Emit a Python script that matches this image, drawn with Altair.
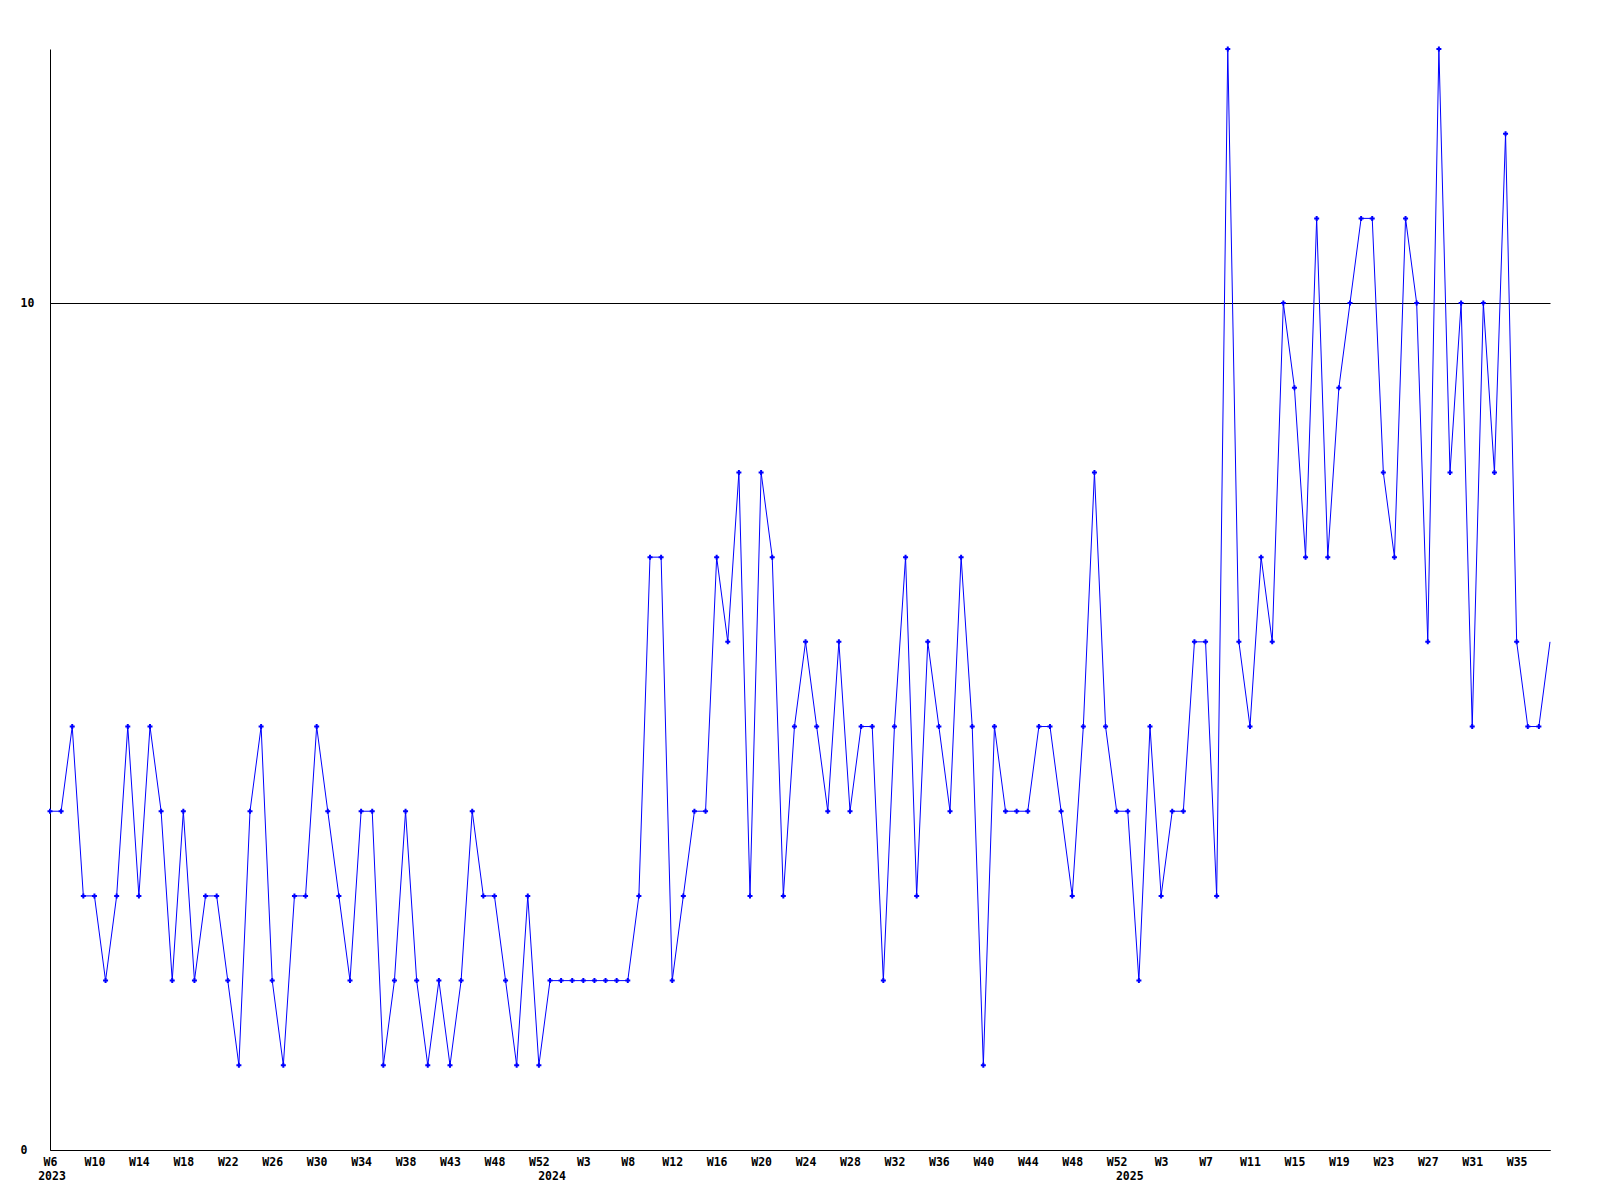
import altair as alt
import pandas as pd

# ---- data ----
weeks_2023 = [6, 7, 8, 9, 10, 11, 12, 13, 14, 15, 16, 17, 18, 19, 20, 21, 22, 23,
              24, 25, 26, 27, 28, 29, 30, 31, 32, 33, 34, 35, 36, 37, 38,
              39, 40, 41, 43, 44, 45, 46, 48, 49, 50, 51, 52]
values_2023 = [4, 4, 5, 3, 3, 2, 3, 5, 3, 5, 4, 2, 4, 2, 3, 3, 2, 1, 4, 5, 2, 1, 3,
               3, 5, 4, 3, 2, 4, 4, 1, 2, 4, 2, 1, 2, 1, 2, 4, 3, 3, 2, 1, 3, 1]

weeks_2024 = [0, 1, 2, 3, 4, 5, 6, 8, 9, 10, 11, 12, 13, 14, 15, 16, 17, 18, 19,
              20, 21, 22, 23, 24, 25, 26, 27, 28, 29, 30, 31, 32, 33, 34, 35, 36,
              37, 38, 39, 40, 41, 42, 43, 44, 45, 46, 47, 48, 49, 50, 51, 52]
values_2024 = [2, 2, 2, 2, 2, 2, 2, 2, 3, 7, 7, 2, 3, 4, 4, 7, 6, 8, 3, 8, 7, 3, 5,
               6, 5, 4, 6, 4, 5, 5, 2, 5, 7, 3, 6, 5, 4, 7, 5, 1, 5, 4, 4, 4, 5, 5,
               4, 3, 5, 8, 5, 4]

weeks_2025 = [0, 1, 2, 3, 4, 5, 6, 7, 8, 9, 10, 11, 12, 13, 14, 15, 16, 17, 18, 19,
              20, 21, 22, 23, 24, 25, 26, 27, 28, 29, 30, 31, 32, 33, 34, 35, 36, 37, 38]
values_2025 = [4, 2, 5, 3, 4, 4, 6, 6, 3, 13, 6, 5, 7, 6, 10, 9, 7, 11, 7, 9, 10, 11,
               11, 8, 7, 11, 10, 6, 13, 8, 10, 5, 10, 8, 12, 6, 5, 5, 6]

y_ticks = [0, 10]

# ---- table ----
rows = []
for year, weeks, vals in [(2023, weeks_2023, values_2023),
                          (2024, weeks_2024, values_2024),
                          (2025, weeks_2025, values_2025)]:
    for i, (w, v) in enumerate(zip(weeks, vals)):
        rows.append({"key": f"{year}-W{w}", "value": v,
                     "year_label": str(year) if i == 0 else ""})
df = pd.DataFrame(rows)
df["idx"] = list(range(len(df)))
keys = list(df["key"])
tick_keys = keys[::4]
last_idx = len(df) - 1

W, H = 1500, 1101
FONT = "DejaVu Sans Mono"
FS = 11.5
BLUE = "#0000ff"

x_enc = alt.X(
    "key:N", sort=keys,
    scale=alt.Scale(type="point", padding=0),
    axis=alt.Axis(values=tick_keys, labelExpr="split(datum.value, '-')[1]",
                  title=None, ticks=False, tickSize=0, labelAngle=0,
                  labelPadding=6, labelFont=FONT, labelFontSize=FS,
                  labelFontWeight="bold", labelColor="black",
                  labelOverlap=False, domainColor="black", domainWidth=1,
                  grid=False),
)
y_enc = alt.Y(
    "value:Q",
    scale=alt.Scale(domain=[0, 13], nice=False, zero=True),
    axis=alt.Axis(values=y_ticks, title=None, ticks=False, tickSize=0,
                  grid=True, gridColor="black", gridOpacity=1, gridWidth=1,
                  domainColor="black", domainWidth=1, labelAlign="left",
                  labelPadding=30, labelFont=FONT, labelFontSize=FS,
                  labelFontWeight="bold", labelColor="black"),
)

base = alt.Chart(df)
line = base.mark_line(color=BLUE, strokeWidth=1).encode(x=x_enc, y=y_enc)
pts = base.transform_filter(f"datum.idx < {last_idx}").mark_point(
    shape="cross", filled=True, size=25, color=BLUE, opacity=1
).encode(x=x_enc, y=y_enc)
years = base.transform_filter("datum.year_label != ''").mark_text(
    baseline="top", align="center", dx=2, font=FONT, fontSize=FS,
    fontWeight="bold", color="black"
).encode(x=x_enc, y=alt.value(H + 21), text="year_label:N")

chart = alt.layer(line, pts, years).properties(
    width=W, height=H,
    autosize=alt.AutoSizeParams(type="none"),
    padding={"left": 42, "top": 41, "right": 30, "bottom": 50},
    background="white",
).configure_view(stroke=None)

chart.save("out.html", embed_options={"renderer": "svg", "actions": False})
